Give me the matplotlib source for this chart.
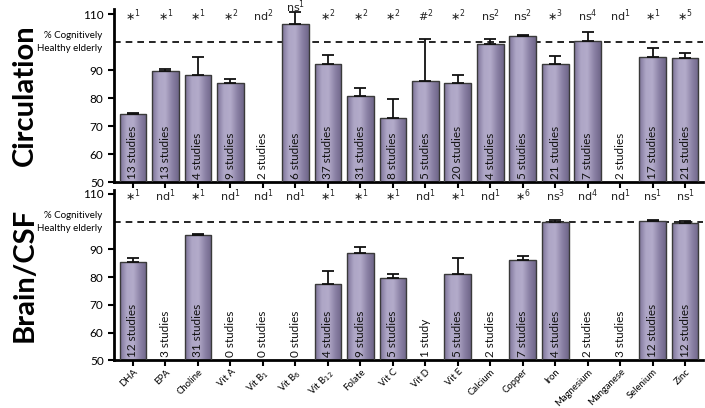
import numpy as np
import matplotlib
matplotlib.use("Agg")
import matplotlib.pyplot as plt
from matplotlib.colors import LinearSegmentedColormap

plt.rcParams['font.family'] = ['Lato', 'DejaVu Sans']

nutrients = ["DHA", "EPA", "Choline", "Vit A", "Vit B$_1$", "Vit B$_6$", "Vit B$_{12}$",
             "Folate", "Vit C", "Vit D", "Vit E", "Calcium", "Copper", "Iron",
             "Magnesium", "Manganese", "Selenium", "Zinc"]

# Circulation panel (None = no data bar)
circ_vals = [74.3, 89.6, 88.3, 85.6, None, 106.4, 92.4, 80.8, 72.8, 86.1, 85.3,
             99.5, 102.2, 92.4, 100.6, None, 94.9, 94.4]
circ_err = [0.3, 0.7, 6.5, 1.2, 0, 4.2, 3.0, 2.8, 6.9, 15.2, 3.1,
            1.7, 0.4, 2.6, 3.2, 0, 3.1, 1.8]
circ_studies = ["13 studies", "13 studies", "4 studies", "9 studies", "2 studies", "6 studies",
                "37 studies", "31 studies", "8 studies", "5 studies", "20 studies", "4 studies",
                "5 studies", "21 studies", "7 studies", "2 studies", "17 studies", "21 studies"]
circ_sig = [("∗", "1"), ("∗", "1"), ("∗", "1"), ("∗", "2"), ("nd", "2"), ("ns", "1"),
            ("∗", "2"), ("∗", "2"), ("∗", "2"), ("#", "2"), ("∗", "2"), ("ns", "2"),
            ("ns", "2"), ("∗", "3"), ("ns", "4"), ("nd", "1"), ("∗", "1"), ("∗", "5")]

# Brain/CSF panel
brain_vals = [85.5, None, 95.3, None, None, None, 77.4, 88.8, 79.6, None, 81.1,
              None, 86.0, 99.9, None, None, 100.2, 99.6]
brain_err = [1.5, 0, 0.1, 0, 0, 0, 4.8, 2.0, 1.6, 0, 5.6,
             0, 1.6, 0.7, 0, 0, 0.5, 0.7]
brain_studies = ["12 studies", "3 studies", "31 studies", "0 studies", "0 studies", "0 studies",
                 "4 studies", "9 studies", "5 studies", "1 study", "5 studies", "2 studies",
                 "7 studies", "4 studies", "2 studies", "3 studies", "12 studies", "12 studies"]
brain_sig = [("∗", "1"), ("nd", "1"), ("∗", "1"), ("nd", "1"), ("nd", "1"), ("nd", "1"),
             ("∗", "1"), ("∗", "1"), ("∗", "1"), ("nd", "1"), ("∗", "1"), ("nd", "1"),
             ("∗", "6"), ("ns", "3"), ("nd", "4"), ("nd", "1"), ("ns", "1"), ("ns", "1")]

grad = LinearSegmentedColormap.from_list("g", ["#7d7398", "#aea6c6", "#b3abca", "#8c82a6", "#6f6689"])
x = np.arange(len(nutrients))


def panel(ax, vals, errs, studies, sig, ylim_top, label):
    for i, (v, e) in enumerate(zip(vals, errs)):
        if v is not None:
            b = ax.bar(i, v - 50, bottom=50, width=0.82, color="none",
                       edgecolor="#3a3a3a", linewidth=1.0, zorder=3)[0]
            x0 = i - 0.41
            img = ax.imshow(np.linspace(0, 1, 64).reshape(1, -1), cmap=grad, aspect="auto",
                            extent=[x0, x0 + 0.82, 50, v], zorder=2)
            img.set_clip_path(b)
            ax.errorbar(i, v, yerr=[[0], [e]], fmt="none", ecolor="#111111",
                        elinewidth=1.3, capsize=4.5, capthick=1.3, zorder=4)
        ax.text(i, 51.3, studies[i], rotation=90, ha="center", va="bottom",
                fontsize=8.5, color="#111111", zorder=5)
        sym, n = sig[i]
        yy = 109.3
        if v is not None and v + errs[i] > 106:
            yy = 112.5
        ax.text(i, yy, f"{sym}$^{{{n}}}$", ha="center", va="center", fontsize=8,
                color="#222222", family=['DejaVu Sans'])
    ax.axhline(100, color="black", linestyle=(0, (4, 3)), linewidth=1.2, zorder=1)
    ax.set_xlim(-0.585, 17.54)
    ax.set_ylim(50, ylim_top)
    ax.set_yticks([50, 60, 70, 80, 90, 110])
    ax.set_xticks(x)
    ax.spines[["top", "right"]].set_visible(False)
    ax.spines[["left", "bottom"]].set_linewidth(2)
    ax.tick_params(axis="both", width=1.5, length=4, labelsize=8.5)
    ax.text(-0.02, 100, "% Cognitively\nHealthy elderly", transform=ax.get_yaxis_transform(),
            ha="right", va="center", fontsize=7, linespacing=1.6)
    ax.text(-0.152, 0.5, label, transform=ax.transAxes, rotation=90, ha="center", va="center",
            fontsize=21, fontweight="bold")


fig = plt.figure(figsize=(7.05, 4.08), dpi=100)
ax1 = fig.add_axes([0.1617, 0.553, 0.835, 0.426])
ax2 = fig.add_axes([0.1617, 0.117, 0.835, 0.418])

panel(ax1, circ_vals, circ_err, circ_studies, circ_sig, 112, "Circulation")
panel(ax2, brain_vals, brain_err, brain_studies, brain_sig, 111.5, "Brain/CSF")

ax1.set_xticklabels([])
ax2.set_xticklabels(nutrients, rotation=45, ha="right", rotation_mode="anchor", fontsize=6.8)
ax2.tick_params(axis="x", pad=1)

fig.savefig("out.png", dpi=100)
